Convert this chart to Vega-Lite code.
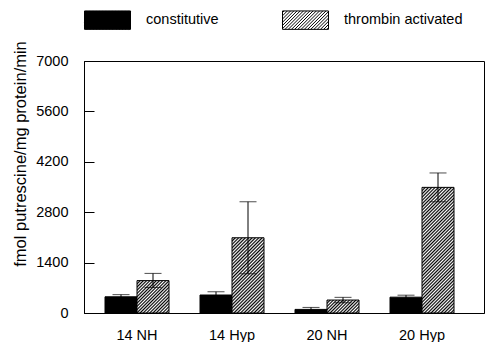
{
  "$schema": "https://vega.github.io/schema/vega-lite/v6.json",
  "autosize": "none",
  "width": 400,
  "height": 252,
  "padding": {"left": 84, "top": 61, "right": 3, "bottom": 29},
  "background": "white",
  "config": {
    "font": "Liberation Sans",
    "view": {"stroke": "black", "strokeWidth": 1},
    "axis": {"domainColor": "black", "tickColor": "black", "labelColor": "black", "titleColor": "black", "labelFont": "Liberation Sans", "titleFont": "Liberation Sans", "labelFontSize": 14.5, "titleFontSize": 14.5, "titleFontWeight": "normal", "grid": false},
    "legend": {"labelFont": "Liberation Sans"}
  },
  "data": {"values": [
    {"group": "14 NH", "series": "constitutive", "value": 450, "lo": 390, "hi": 510},
    {"group": "14 NH", "series": "thrombin activated", "value": 900, "lo": 710, "hi": 1100},
    {"group": "14 Hyp", "series": "constitutive", "value": 500, "lo": 410, "hi": 590},
    {"group": "14 Hyp", "series": "thrombin activated", "value": 2090, "lo": 1090, "hi": 3090},
    {"group": "20 NH", "series": "constitutive", "value": 100, "lo": 45, "hi": 155},
    {"group": "20 NH", "series": "thrombin activated", "value": 360, "lo": 285, "hi": 435},
    {"group": "20 Hyp", "series": "constitutive", "value": 440, "lo": 385, "hi": 495},
    {"group": "20 Hyp", "series": "thrombin activated", "value": 3490, "lo": 3090, "hi": 3890}
  ]},
  "encoding": {
    "x": {"field": "group", "type": "nominal", "sort": ["14 NH", "14 Hyp", "20 NH", "20 Hyp"],
      "scale": {"paddingInner": 0.3263, "paddingOuter": 0.2684, "align": 0.412},
      "axis": {"title": null, "ticks": false, "tickSize": 0, "labelPadding": 15, "labelAngle": 0, "domainColor": "black"}},
    "xOffset": {"field": "series", "type": "nominal", "sort": ["constitutive", "thrombin activated"], "scale": {"paddingInner": 0, "paddingOuter": 0}}
  },
  "layer": [
    {
      "mark": {"type": "bar", "stroke": "black", "strokeWidth": 1},
      "encoding": {
        "y": {"field": "value", "type": "quantitative", "scale": {"domain": [0, 7000], "nice": false},
          "axis": {"values": [0, 1400, 2800, 4200, 5600, 7000], "format": "d", "tickSize": -10, "labelPadding": 26, "title": "fmol putrescine/mg protein/min", "titleFontSize": 16.5, "titleX": -64, "titleY": 92.5, "titleAngle": -90, "titleAlign": "center", "titleBaseline": "middle"}},
        "fill": {"field": "series", "type": "nominal", "sort": ["constitutive", "thrombin activated"],
          "scale": {"domain": ["constitutive", "thrombin activated"], "range": ["black", "white"]},
          "condition": [
            {"test": "datum.series === 'thrombin activated' && datum.group === '14 NH'", "value": {"gradient": "linear", "x1": 0, "y1": 0, "x2": 0.9937, "y2": 1.0062, "stops": [{"offset":0,"color":"#000"},{"offset":0.025,"color":"#fff"},{"offset":0.05,"color":"#000"},{"offset":0.075,"color":"#fff"},{"offset":0.1,"color":"#000"},{"offset":0.125,"color":"#fff"},{"offset":0.15,"color":"#000"},{"offset":0.175,"color":"#fff"},{"offset":0.2,"color":"#000"},{"offset":0.225,"color":"#fff"},{"offset":0.25,"color":"#000"},{"offset":0.275,"color":"#fff"},{"offset":0.3,"color":"#000"},{"offset":0.325,"color":"#fff"},{"offset":0.35,"color":"#000"},{"offset":0.375,"color":"#fff"},{"offset":0.4,"color":"#000"},{"offset":0.425,"color":"#fff"},{"offset":0.45,"color":"#000"},{"offset":0.475,"color":"#fff"},{"offset":0.5,"color":"#000"},{"offset":0.525,"color":"#fff"},{"offset":0.55,"color":"#000"},{"offset":0.575,"color":"#fff"},{"offset":0.6,"color":"#000"},{"offset":0.625,"color":"#fff"},{"offset":0.65,"color":"#000"},{"offset":0.675,"color":"#fff"},{"offset":0.7,"color":"#000"},{"offset":0.725,"color":"#fff"},{"offset":0.75,"color":"#000"},{"offset":0.775,"color":"#fff"},{"offset":0.8,"color":"#000"},{"offset":0.825,"color":"#fff"},{"offset":0.85,"color":"#000"},{"offset":0.875,"color":"#fff"},{"offset":0.9,"color":"#000"},{"offset":0.925,"color":"#fff"},{"offset":0.95,"color":"#000"},{"offset":0.975,"color":"#fff"},{"offset":1,"color":"#000"}]}},
            {"test": "datum.series === 'thrombin activated' && datum.group === '14 Hyp'", "value": {"gradient": "linear", "x1": 0, "y1": 0, "x2": 0.5136, "y2": 1.207, "stops": [{"offset":0,"color":"#000"},{"offset":0.015625,"color":"#fff"},{"offset":0.03125,"color":"#000"},{"offset":0.046875,"color":"#fff"},{"offset":0.0625,"color":"#000"},{"offset":0.078125,"color":"#fff"},{"offset":0.09375,"color":"#000"},{"offset":0.109375,"color":"#fff"},{"offset":0.125,"color":"#000"},{"offset":0.140625,"color":"#fff"},{"offset":0.15625,"color":"#000"},{"offset":0.171875,"color":"#fff"},{"offset":0.1875,"color":"#000"},{"offset":0.203125,"color":"#fff"},{"offset":0.21875,"color":"#000"},{"offset":0.234375,"color":"#fff"},{"offset":0.25,"color":"#000"},{"offset":0.265625,"color":"#fff"},{"offset":0.28125,"color":"#000"},{"offset":0.296875,"color":"#fff"},{"offset":0.3125,"color":"#000"},{"offset":0.328125,"color":"#fff"},{"offset":0.34375,"color":"#000"},{"offset":0.359375,"color":"#fff"},{"offset":0.375,"color":"#000"},{"offset":0.390625,"color":"#fff"},{"offset":0.40625,"color":"#000"},{"offset":0.421875,"color":"#fff"},{"offset":0.4375,"color":"#000"},{"offset":0.453125,"color":"#fff"},{"offset":0.46875,"color":"#000"},{"offset":0.484375,"color":"#fff"},{"offset":0.5,"color":"#000"},{"offset":0.515625,"color":"#fff"},{"offset":0.53125,"color":"#000"},{"offset":0.546875,"color":"#fff"},{"offset":0.5625,"color":"#000"},{"offset":0.578125,"color":"#fff"},{"offset":0.59375,"color":"#000"},{"offset":0.609375,"color":"#fff"},{"offset":0.625,"color":"#000"},{"offset":0.640625,"color":"#fff"},{"offset":0.65625,"color":"#000"},{"offset":0.671875,"color":"#fff"},{"offset":0.6875,"color":"#000"},{"offset":0.703125,"color":"#fff"},{"offset":0.71875,"color":"#000"},{"offset":0.734375,"color":"#fff"},{"offset":0.75,"color":"#000"},{"offset":0.765625,"color":"#fff"},{"offset":0.78125,"color":"#000"},{"offset":0.796875,"color":"#fff"},{"offset":0.8125,"color":"#000"},{"offset":0.828125,"color":"#fff"},{"offset":0.84375,"color":"#000"},{"offset":0.859375,"color":"#fff"},{"offset":0.875,"color":"#000"},{"offset":0.890625,"color":"#fff"},{"offset":0.90625,"color":"#000"},{"offset":0.921875,"color":"#fff"},{"offset":0.9375,"color":"#000"},{"offset":0.953125,"color":"#fff"},{"offset":0.96875,"color":"#000"},{"offset":0.984375,"color":"#fff"},{"offset":1,"color":"#000"}]}},
            {"test": "datum.series === 'thrombin activated' && datum.group === '20 NH'", "value": {"gradient": "linear", "x1": 0, "y1": 0, "x2": 1.207, "y2": 0.4904, "stops": [{"offset":0,"color":"#000"},{"offset":0.0357,"color":"#fff"},{"offset":0.0714,"color":"#000"},{"offset":0.1071,"color":"#fff"},{"offset":0.1429,"color":"#000"},{"offset":0.1786,"color":"#fff"},{"offset":0.2143,"color":"#000"},{"offset":0.25,"color":"#fff"},{"offset":0.2857,"color":"#000"},{"offset":0.3214,"color":"#fff"},{"offset":0.3571,"color":"#000"},{"offset":0.3929,"color":"#fff"},{"offset":0.4286,"color":"#000"},{"offset":0.4643,"color":"#fff"},{"offset":0.5,"color":"#000"},{"offset":0.5357,"color":"#fff"},{"offset":0.5714,"color":"#000"},{"offset":0.6071,"color":"#fff"},{"offset":0.6429,"color":"#000"},{"offset":0.6786,"color":"#fff"},{"offset":0.7143,"color":"#000"},{"offset":0.75,"color":"#fff"},{"offset":0.7857,"color":"#000"},{"offset":0.8214,"color":"#fff"},{"offset":0.8571,"color":"#000"},{"offset":0.8929,"color":"#fff"},{"offset":0.9286,"color":"#000"},{"offset":0.9643,"color":"#fff"},{"offset":1,"color":"#000"}]}},
            {"test": "datum.series === 'thrombin activated' && datum.group === '20 Hyp'", "value": {"gradient": "linear", "x1": 0, "y1": 0, "x2": 0.3002, "y2": 1.1783, "stops": [{"offset":0,"color":"#000"},{"offset":0.0104,"color":"#fff"},{"offset":0.0208,"color":"#000"},{"offset":0.0313,"color":"#fff"},{"offset":0.0417,"color":"#000"},{"offset":0.0521,"color":"#fff"},{"offset":0.0625,"color":"#000"},{"offset":0.0729,"color":"#fff"},{"offset":0.0833,"color":"#000"},{"offset":0.0938,"color":"#fff"},{"offset":0.1042,"color":"#000"},{"offset":0.1146,"color":"#fff"},{"offset":0.125,"color":"#000"},{"offset":0.1354,"color":"#fff"},{"offset":0.1458,"color":"#000"},{"offset":0.1563,"color":"#fff"},{"offset":0.1667,"color":"#000"},{"offset":0.1771,"color":"#fff"},{"offset":0.1875,"color":"#000"},{"offset":0.1979,"color":"#fff"},{"offset":0.2083,"color":"#000"},{"offset":0.2188,"color":"#fff"},{"offset":0.2292,"color":"#000"},{"offset":0.2396,"color":"#fff"},{"offset":0.25,"color":"#000"},{"offset":0.2604,"color":"#fff"},{"offset":0.2708,"color":"#000"},{"offset":0.2813,"color":"#fff"},{"offset":0.2917,"color":"#000"},{"offset":0.3021,"color":"#fff"},{"offset":0.3125,"color":"#000"},{"offset":0.3229,"color":"#fff"},{"offset":0.3333,"color":"#000"},{"offset":0.3438,"color":"#fff"},{"offset":0.3542,"color":"#000"},{"offset":0.3646,"color":"#fff"},{"offset":0.375,"color":"#000"},{"offset":0.3854,"color":"#fff"},{"offset":0.3958,"color":"#000"},{"offset":0.4063,"color":"#fff"},{"offset":0.4167,"color":"#000"},{"offset":0.4271,"color":"#fff"},{"offset":0.4375,"color":"#000"},{"offset":0.4479,"color":"#fff"},{"offset":0.4583,"color":"#000"},{"offset":0.4688,"color":"#fff"},{"offset":0.4792,"color":"#000"},{"offset":0.4896,"color":"#fff"},{"offset":0.5,"color":"#000"},{"offset":0.5104,"color":"#fff"},{"offset":0.5208,"color":"#000"},{"offset":0.5313,"color":"#fff"},{"offset":0.5417,"color":"#000"},{"offset":0.5521,"color":"#fff"},{"offset":0.5625,"color":"#000"},{"offset":0.5729,"color":"#fff"},{"offset":0.5833,"color":"#000"},{"offset":0.5938,"color":"#fff"},{"offset":0.6042,"color":"#000"},{"offset":0.6146,"color":"#fff"},{"offset":0.625,"color":"#000"},{"offset":0.6354,"color":"#fff"},{"offset":0.6458,"color":"#000"},{"offset":0.6563,"color":"#fff"},{"offset":0.6667,"color":"#000"},{"offset":0.6771,"color":"#fff"},{"offset":0.6875,"color":"#000"},{"offset":0.6979,"color":"#fff"},{"offset":0.7083,"color":"#000"},{"offset":0.7188,"color":"#fff"},{"offset":0.7292,"color":"#000"},{"offset":0.7396,"color":"#fff"},{"offset":0.75,"color":"#000"},{"offset":0.7604,"color":"#fff"},{"offset":0.7708,"color":"#000"},{"offset":0.7813,"color":"#fff"},{"offset":0.7917,"color":"#000"},{"offset":0.8021,"color":"#fff"},{"offset":0.8125,"color":"#000"},{"offset":0.8229,"color":"#fff"},{"offset":0.8333,"color":"#000"},{"offset":0.8438,"color":"#fff"},{"offset":0.8542,"color":"#000"},{"offset":0.8646,"color":"#fff"},{"offset":0.875,"color":"#000"},{"offset":0.8854,"color":"#fff"},{"offset":0.8958,"color":"#000"},{"offset":0.9063,"color":"#fff"},{"offset":0.9167,"color":"#000"},{"offset":0.9271,"color":"#fff"},{"offset":0.9375,"color":"#000"},{"offset":0.9479,"color":"#fff"},{"offset":0.9583,"color":"#000"},{"offset":0.9688,"color":"#fff"},{"offset":0.9792,"color":"#000"},{"offset":0.9896,"color":"#fff"},{"offset":1,"color":"#000"}]}}
          ],
          "legend": {
            "orient": "none", "legendX": 0, "legendY": -64.5, "direction": "horizontal", "columns": 2, "columnPadding": 61,
            "symbolType": "M-1,-0.4H1V0.4H-1ZM-1,-0.33L-0.93,-0.4M-1,-0.19L-0.79,-0.4M-1,-0.05L-0.65,-0.4M-1,0.09L-0.51,-0.4M-1,0.23L-0.37,-0.4M-1,0.37L-0.23,-0.4M-0.89,0.4L-0.09,-0.4M-0.75,0.4L0.05,-0.4M-0.61,0.4L0.19,-0.4M-0.47,0.4L0.33,-0.4M-0.33,0.4L0.47,-0.4M-0.19,0.4L0.61,-0.4M-0.05,0.4L0.75,-0.4M0.09,0.4L0.89,-0.4M0.23,0.4L1,-0.37M0.37,0.4L1,-0.23M0.51,0.4L1,-0.09M0.65,0.4L1,0.05M0.79,0.4L1,0.19M0.93,0.4L1,0.33",
            "symbolSize": 2116, "symbolStrokeColor": "black", "symbolStrokeWidth": 1,
            "labelFontSize": 14.5, "labelOffset": 15, "labelColor": "black", "title": null, "padding": 0,
            "encode": {"symbols": {"update": {"stroke": {"value": "black"}, "strokeWidth": {"value": 1}}}}
          }
        }
      }
    },
    {
      "mark": {"type": "rule", "color": "black", "strokeWidth": 1},
      "encoding": {"y": {"field": "lo", "type": "quantitative"}, "y2": {"field": "hi"}}
    },
    {
      "mark": {"type": "tick", "color": "black", "size": 17, "thickness": 1},
      "encoding": {"y": {"field": "hi", "type": "quantitative"}}
    },
    {
      "mark": {"type": "tick", "color": "black", "size": 17, "thickness": 1},
      "encoding": {"y": {"field": "lo", "type": "quantitative"}}
    }
  ]
}
